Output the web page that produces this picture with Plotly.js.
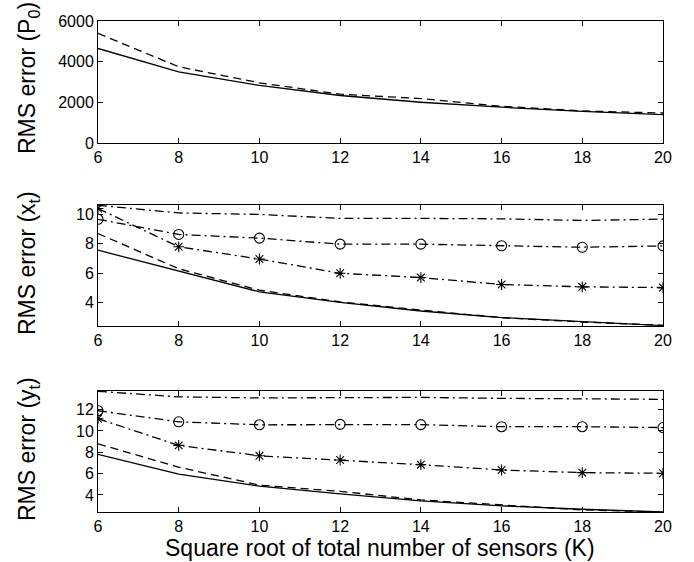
<!DOCTYPE html>
<html>
<head>
<meta charset="utf-8">
<script src="https://cdn.plot.ly/plotly-3.0.1.min.js"></script>
<style>
  html, body { margin: 0; padding: 0; background: #ffffff; }
  #chart { width: 694px; height: 562px; }
</style>
</head>
<body>
<div id="chart"></div>
<script>
// Square root of total number of sensors (K)
const K = [6, 8, 10, 12, 14, 16, 18, 20];

// RMS error of P0
const p0Solid  = [4650, 3500, 2830, 2335, 2005, 1760, 1560, 1395];
const p0Dashed = [5390, 3750, 2960, 2400, 2185, 1805, 1575, 1475];

// RMS error of x_t
const xtSolid   = [7.55, 6.14, 4.72, 4.00, 3.42, 2.97, 2.70, 2.43];
const xtDashed  = [8.68, 6.29, 4.83, 4.04, 3.48, 2.97, 2.67, 2.45];
const xtStar    = [10.38, 7.78, 6.95, 5.98, 5.69, 5.22, 5.06, 5.01];
const xtCircle  = [9.65, 8.62, 8.37, 7.96, 7.96, 7.85, 7.75, 7.84];
const xtDashDot = [10.60, 10.08, 9.98, 9.71, 9.71, 9.68, 9.57, 9.66];

// RMS error of y_t
const ytSolid   = [7.80, 5.95, 4.83, 4.10, 3.44, 2.97, 2.66, 2.40];
const ytDashed  = [8.80, 6.60, 4.92, 4.34, 3.53, 3.03, 2.60, 2.40];
const ytStar    = [11.15, 8.65, 7.67, 7.28, 6.84, 6.34, 6.09, 6.03];
const ytCircle  = [11.90, 10.86, 10.58, 10.62, 10.60, 10.40, 10.40, 10.32];
const ytDashDot = [13.72, 13.20, 13.10, 13.15, 13.15, 13.06, 13.00, 12.97];

const yTicksP0 = [0, 2000, 4000, 6000];
const yTicksXt = [4, 6, 8, 10];
const yTicksYt = [4, 6, 8, 10, 12];

const DASH = '8px,5px';
const DASHDOT = '9px,4px,2px,4px';
const LW = 1.3;

function line(y, xa, ya, dash, symbol) {
  const t = {
    x: K, y: y, xaxis: xa, yaxis: ya, type: 'scatter',
    mode: symbol ? 'lines+markers' : 'lines',
    line: { color: '#000', width: LW, dash: dash },
    showlegend: false, hoverinfo: 'skip'
  };
  if (symbol) {
    t.marker = { symbol: symbol, size: symbol === 'circle-open' ? 10 : 9,
                 color: '#000', line: { color: '#000', width: 1.1 } };
  }
  return t;
}

const data = [
  line(p0Solid, 'x', 'y', 'solid'),
  line(p0Dashed, 'x', 'y', DASH),

  line(xtSolid, 'x2', 'y2', 'solid'),
  line(xtDashed, 'x2', 'y2', DASH),
  line(xtStar, 'x2', 'y2', DASHDOT, 'asterisk-open'),
  line(xtCircle, 'x2', 'y2', DASHDOT, 'circle-open'),
  line(xtDashDot, 'x2', 'y2', DASHDOT),

  line(ytSolid, 'x3', 'y3', 'solid'),
  line(ytDashed, 'x3', 'y3', DASH),
  line(ytStar, 'x3', 'y3', DASHDOT, 'asterisk-open'),
  line(ytCircle, 'x3', 'y3', DASHDOT, 'circle-open'),
  line(ytDashDot, 'x3', 'y3', DASHDOT)
];

const FONT = 'Liberation Sans, Arial, Helvetica, sans-serif';
const W = 694, H = 562;
const xDom = [98 / W, 663 / W];
function yDom(topPx, botPx) { return [1 - botPx / H, 1 - topPx / H]; }

function xAxis(anchor) {
  return {
    domain: xDom, anchor: anchor, range: [6, 20],
    tickmode: 'array', tickvals: K, ticktext: K.map(String),
    showline: true, mirror: 'ticks', linecolor: '#000', linewidth: 1,
    ticks: 'inside', ticklen: 5, tickcolor: '#000', tickwidth: 1,
    showgrid: false, zeroline: false,
    tickfont: { family: FONT, size: 16, color: '#000' }
  };
}
function yAxis(anchor, dom, range, ticks) {
  return {
    domain: dom, anchor: anchor, range: range,
    tickmode: 'array', tickvals: ticks, ticktext: ticks.map(String),
    showline: true, mirror: 'ticks', linecolor: '#000', linewidth: 1,
    ticks: 'inside', ticklen: 5, tickcolor: '#000', tickwidth: 1,
    showgrid: false, zeroline: false,
    tickfont: { family: FONT, size: 16, color: '#000' }
  };
}

const layout = {
  width: W, height: H,
  margin: { l: 0, r: 0, t: 0, b: 0 },
  paper_bgcolor: '#fff', plot_bgcolor: '#fff',
  showlegend: false,
  xaxis: xAxis('y'),
  yaxis: yAxis('x', yDom(21, 143), [0, 6000], yTicksP0),
  xaxis2: xAxis('y2'),
  yaxis2: yAxis('x2', yDom(205, 326), [2.4, 10.62], yTicksXt),
  xaxis3: xAxis('y3'),
  yaxis3: yAxis('x3', yDom(391, 512), [2.4, 13.75], yTicksYt),
  annotations: [
    { text: 'RMS error (P<sub>0</sub>)', x: 28 / W, y: 1 - 78 / H },
    { text: 'RMS error (x<sub>t</sub>)', x: 28 / W, y: 1 - 263 / H },
    { text: 'RMS error (y<sub>t</sub>)', x: 28 / W, y: 1 - 449 / H },
    { text: 'Square root of total number of sensors (K)', x: 380 / W, y: 0,
      yanchor: 'bottom', textangle: 0 }
  ].map(a => Object.assign({
    xref: 'paper', yref: 'paper', showarrow: false, borderpad: 0,
    xanchor: 'center', yanchor: 'middle', textangle: -90,
    font: { family: FONT, size: 23, color: '#000' }
  }, a))
};

Plotly.newPlot('chart', data, layout, { staticPlot: true, displayModeBar: false });
</script>
</body>
</html>
